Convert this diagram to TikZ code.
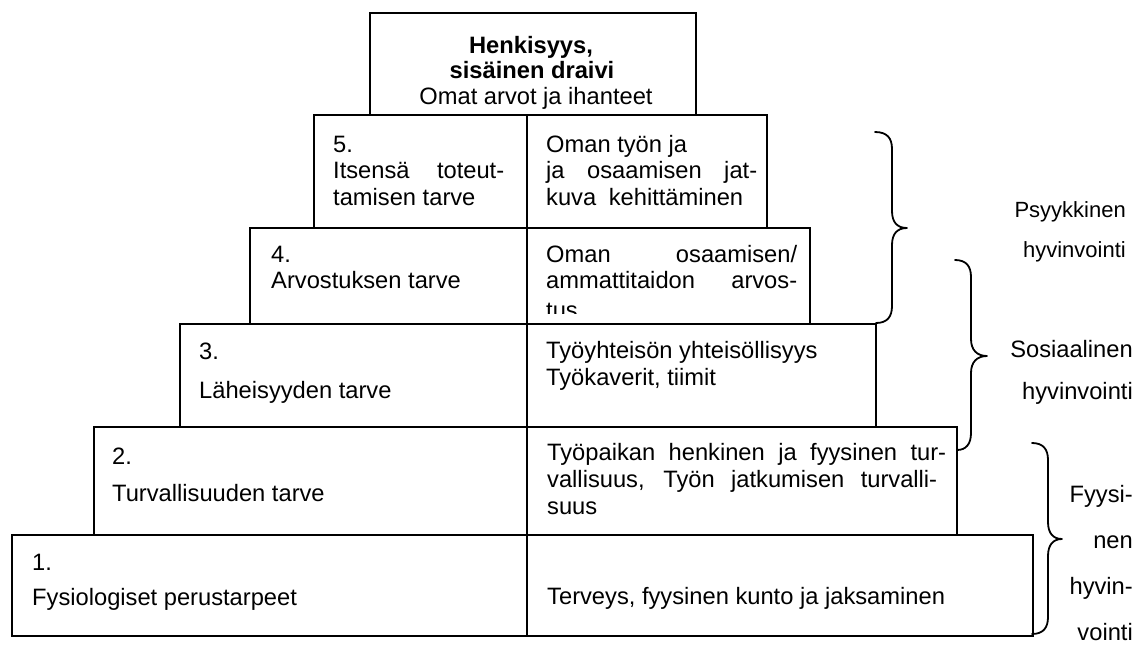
\documentclass[tikz,border=0pt]{standalone}
\usepackage{fontspec}
\setmainfont{Liberation Sans}
\begin{document}
\begin{tikzpicture}[x=1pt,y=-1pt,
  cell/.style={draw, line width=1.8pt, inner sep=0pt, anchor=north west},
  tx/.style={anchor=base west, inner sep=0pt, font=\fontsize{23.7}{28}\selectfont},
  txc/.style={anchor=base, inner sep=0pt, font=\fontsize{23.7}{28}\selectfont},
  lbl/.style={anchor=base east, inner sep=0pt, font=\fontsize{23.7}{28}\selectfont},
  lbls/.style={anchor=base east, inner sep=0pt, font=\fontsize{22}{26}\selectfont},
  divider/.style={line width=1.8pt},
  brace/.style={draw, line width=1.8pt, line join=round, line cap=round}]
\useasboundingbox (0,0) rectangle (1144,646);

% boxes
\node[cell, minimum width=326pt, minimum height=102pt] (top) at (369,12) {};
\node[cell, minimum width=453pt, minimum height=113pt] (L5) at (313,114) {};
\node[cell, minimum width=560pt, minimum height=96pt] (L4) at (249,227) {};
\node[cell, minimum width=696pt, minimum height=103pt] (L3) at (179,323) {};
\node[cell, minimum width=863pt, minimum height=108pt] (L2) at (93,426) {};
\node[cell, minimum width=1021pt, minimum height=101pt] (L1) at (11,534) {};
\coordinate (dtop) at (527,114);
\coordinate (dbot) at (527,635);
\draw[divider] (dtop) -- (dbot);

% top box
\node[txc, font=\fontsize{23.7}{28}\selectfont\bfseries] (h1) at (531,53) {Henkisyys,};
\node[txc, font=\fontsize{23.7}{28}\selectfont\bfseries] (h2) at (532,78.5) {sisäinen draivi};
\node[txc] (h3) at (536,104) {Omat arvot ja ihanteet};

% level 5
\node[tx] (a51) at (333,152) {5.};
\node[tx] (a52) at (333,178) {\makebox[171pt][s]{Itsensä toteut-}};
\node[tx] (a53) at (333,205) {tamisen tarve};
\node[tx] (b51) at (546,152) {Oman työn ja};
\node[tx] (b52) at (546,178) {\makebox[211pt][s]{ja osaamisen jat-}};
\node[tx] (b53) at (546,205) {\makebox[197pt][s]{kuva kehittäminen}};

% level 4
\node[tx] (a41) at (271,262) {4.};
\node[tx] (a42) at (271,288) {Arvostuksen tarve};
\node[tx] (b41) at (546,262) {\makebox[251pt][s]{Oman osaamisen/}};
\node[tx] (b42) at (546,288) {\makebox[251pt][s]{ammattitaidon arvos-}};
\begin{scope}
\clip (527,227) rectangle (809,313);
\node[tx] (b43) at (546,318) {tus};
\end{scope}

% level 3
\node[tx] (a31) at (199,359) {3.};
\node[tx] (a32) at (199,398) {Läheisyyden tarve};
\node[tx] (b31) at (546,358) {Työyhteisön yhteisöllisyys};
\node[tx] (b32) at (546,385) {Työkaverit, tiimit};

% level 2
\node[tx] (a21) at (112,464) {2.};
\node[tx] (a22) at (112,501) {Turvallisuuden tarve};
\node[tx] (b21) at (547,460) {\makebox[399pt][s]{Työpaikan henkinen ja fyysinen tur-}};
\node[tx] (b22) at (547,487) {\makebox[390pt][s]{vallisuus, Työn jatkumisen turvalli-}};
\node[tx] (b23) at (547,514) {suus};

% level 1
\node[tx] (a11) at (32,570) {1.};
\node[tx] (a12) at (32,605) {Fysiologiset perustarpeet};
\node[tx] (b11) at (547,604) {Terveys, fyysinen kunto ja jaksaminen};

% braces
\draw[brace] (875,132) .. controls (887,132) and (892,138) .. (892,149) -- (892,211)
  .. controls (892,222) and (897,228) .. (907,228)
  .. controls (897,228) and (892,234) .. (892,245) -- (892,306)
  .. controls (892,317) and (887,323) .. (876,323);
\draw[brace] (955,260) .. controls (966,260) and (971,266) .. (971,277) -- (971,339)
  .. controls (971,350) and (977,356) .. (987,356)
  .. controls (977,356) and (971,362) .. (971,373) -- (971,433)
  .. controls (971,444) and (966,450) .. (957,450);
\draw[brace] (1032,443) .. controls (1043,443) and (1048,449) .. (1048,460) -- (1048,522)
  .. controls (1048,533) and (1053,539) .. (1062,539)
  .. controls (1053,539) and (1048,545) .. (1048,556) -- (1048,617)
  .. controls (1048,628) and (1043,634) .. (1032,634);

% labels
\node[lbls] (p1) at (1126,217) {Psyykkinen};
\node[lbls] (p2) at (1126,257) {hyvinvointi};
\node[lbl] (s1) at (1133,357) {Sosiaalinen};
\node[lbl] (s2) at (1133,399) {hyvinvointi};
\node[lbl] (f1) at (1133,502) {Fyysi-};
\node[lbl] (f2) at (1133,548) {nen};
\node[lbl] (f3) at (1133,594) {hyvin-};
\node[lbl] (f4) at (1133,640) {vointi};
\end{tikzpicture}
\end{document}
